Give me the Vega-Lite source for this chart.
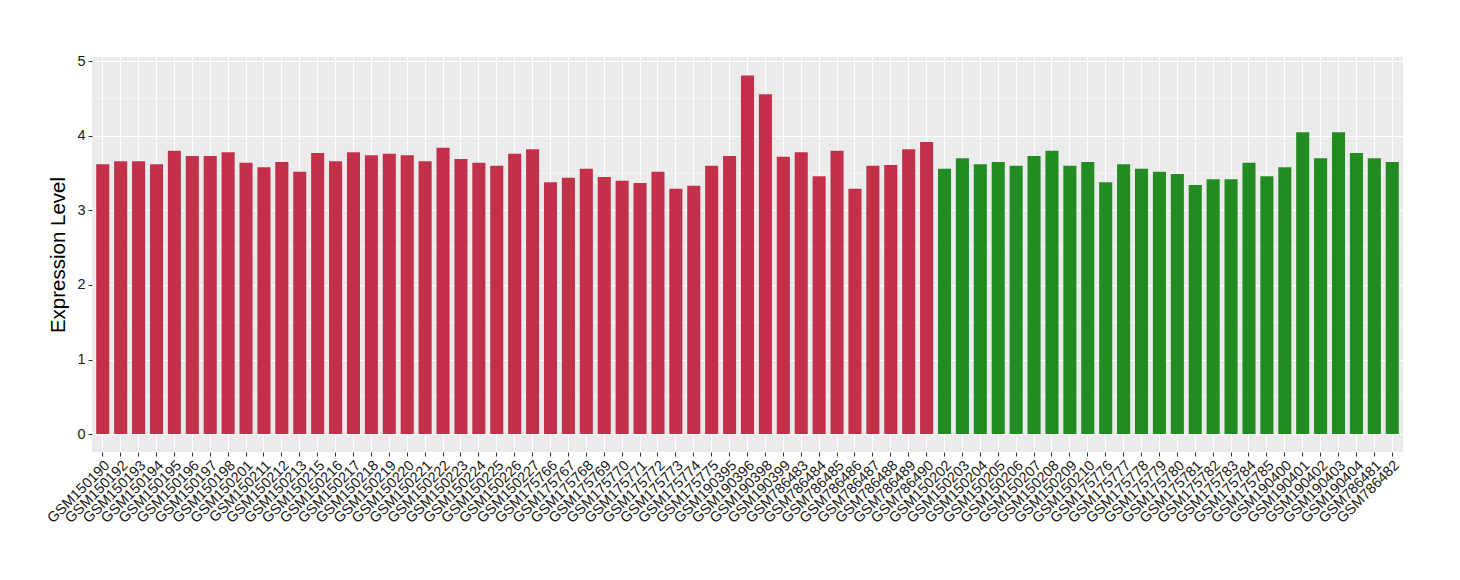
{
  "$schema": "https://vega.github.io/schema/vega-lite/v6.json",
  "autosize": {"type": "none"},
  "width": 1311,
  "height": 395,
  "padding": {"left": 92, "top": 57, "right": 57, "bottom": 128},
  "background": "#FFFFFF",
  "config": {
    "view": {"fill": "#EBEBEB", "stroke": null},
    "font": "Liberation Sans"
  },
  "datasets": {
    "bars": [
      {"sample": "GSM150190", "value": 3.62, "group": "G1"},
      {"sample": "GSM150192", "value": 3.66, "group": "G1"},
      {"sample": "GSM150193", "value": 3.66, "group": "G1"},
      {"sample": "GSM150194", "value": 3.62, "group": "G1"},
      {"sample": "GSM150195", "value": 3.80, "group": "G1"},
      {"sample": "GSM150196", "value": 3.73, "group": "G1"},
      {"sample": "GSM150197", "value": 3.73, "group": "G1"},
      {"sample": "GSM150198", "value": 3.78, "group": "G1"},
      {"sample": "GSM150201", "value": 3.64, "group": "G1"},
      {"sample": "GSM150211", "value": 3.58, "group": "G1"},
      {"sample": "GSM150212", "value": 3.65, "group": "G1"},
      {"sample": "GSM150213", "value": 3.52, "group": "G1"},
      {"sample": "GSM150215", "value": 3.77, "group": "G1"},
      {"sample": "GSM150216", "value": 3.66, "group": "G1"},
      {"sample": "GSM150217", "value": 3.78, "group": "G1"},
      {"sample": "GSM150218", "value": 3.74, "group": "G1"},
      {"sample": "GSM150219", "value": 3.76, "group": "G1"},
      {"sample": "GSM150220", "value": 3.74, "group": "G1"},
      {"sample": "GSM150221", "value": 3.66, "group": "G1"},
      {"sample": "GSM150222", "value": 3.84, "group": "G1"},
      {"sample": "GSM150223", "value": 3.69, "group": "G1"},
      {"sample": "GSM150224", "value": 3.64, "group": "G1"},
      {"sample": "GSM150225", "value": 3.60, "group": "G1"},
      {"sample": "GSM150226", "value": 3.76, "group": "G1"},
      {"sample": "GSM150227", "value": 3.82, "group": "G1"},
      {"sample": "GSM175766", "value": 3.38, "group": "G1"},
      {"sample": "GSM175767", "value": 3.44, "group": "G1"},
      {"sample": "GSM175768", "value": 3.56, "group": "G1"},
      {"sample": "GSM175769", "value": 3.45, "group": "G1"},
      {"sample": "GSM175770", "value": 3.40, "group": "G1"},
      {"sample": "GSM175771", "value": 3.37, "group": "G1"},
      {"sample": "GSM175772", "value": 3.52, "group": "G1"},
      {"sample": "GSM175773", "value": 3.29, "group": "G1"},
      {"sample": "GSM175774", "value": 3.33, "group": "G1"},
      {"sample": "GSM175775", "value": 3.60, "group": "G1"},
      {"sample": "GSM190395", "value": 3.73, "group": "G1"},
      {"sample": "GSM190396", "value": 4.81, "group": "G1"},
      {"sample": "GSM190398", "value": 4.56, "group": "G1"},
      {"sample": "GSM190399", "value": 3.72, "group": "G1"},
      {"sample": "GSM786483", "value": 3.78, "group": "G1"},
      {"sample": "GSM786484", "value": 3.46, "group": "G1"},
      {"sample": "GSM786485", "value": 3.80, "group": "G1"},
      {"sample": "GSM786486", "value": 3.29, "group": "G1"},
      {"sample": "GSM786487", "value": 3.60, "group": "G1"},
      {"sample": "GSM786488", "value": 3.61, "group": "G1"},
      {"sample": "GSM786489", "value": 3.82, "group": "G1"},
      {"sample": "GSM786490", "value": 3.92, "group": "G1"},
      {"sample": "GSM150202", "value": 3.56, "group": "G2"},
      {"sample": "GSM150203", "value": 3.70, "group": "G2"},
      {"sample": "GSM150204", "value": 3.62, "group": "G2"},
      {"sample": "GSM150205", "value": 3.65, "group": "G2"},
      {"sample": "GSM150206", "value": 3.60, "group": "G2"},
      {"sample": "GSM150207", "value": 3.73, "group": "G2"},
      {"sample": "GSM150208", "value": 3.80, "group": "G2"},
      {"sample": "GSM150209", "value": 3.60, "group": "G2"},
      {"sample": "GSM150210", "value": 3.65, "group": "G2"},
      {"sample": "GSM175776", "value": 3.38, "group": "G2"},
      {"sample": "GSM175777", "value": 3.62, "group": "G2"},
      {"sample": "GSM175778", "value": 3.56, "group": "G2"},
      {"sample": "GSM175779", "value": 3.52, "group": "G2"},
      {"sample": "GSM175780", "value": 3.49, "group": "G2"},
      {"sample": "GSM175781", "value": 3.34, "group": "G2"},
      {"sample": "GSM175782", "value": 3.42, "group": "G2"},
      {"sample": "GSM175783", "value": 3.42, "group": "G2"},
      {"sample": "GSM175784", "value": 3.64, "group": "G2"},
      {"sample": "GSM175785", "value": 3.46, "group": "G2"},
      {"sample": "GSM190400", "value": 3.58, "group": "G2"},
      {"sample": "GSM190401", "value": 4.05, "group": "G2"},
      {"sample": "GSM190402", "value": 3.70, "group": "G2"},
      {"sample": "GSM190403", "value": 4.05, "group": "G2"},
      {"sample": "GSM190404", "value": 3.77, "group": "G2"},
      {"sample": "GSM786481", "value": 3.70, "group": "G2"},
      {"sample": "GSM786482", "value": 3.65, "group": "G2"}
    ],
    "minor": [
      {"y": 0.5}, {"y": 1.5}, {"y": 2.5}, {"y": 3.5}, {"y": 4.5}
    ]
  },
  "layer": [
    {
      "data": {"name": "minor"},
      "mark": {"type": "rule", "color": "#FFFFFF", "strokeWidth": 0.6},
      "encoding": {
        "y": {"field": "y", "type": "quantitative"}
      }
    },
    {
      "data": {"name": "bars"},
      "mark": {"type": "bar", "opacity": 1},
      "encoding": {
        "x": {
          "field": "sample",
          "type": "nominal",
          "sort": null,
          "scale": {"paddingInner": 0.27, "paddingOuter": 0.235},
          "axis": {
            "title": null,
            "labelAngle": -45,
            "labelAlign": "right",
            "labelBaseline": "top",
            "labelFontSize": 14.5,
            "labelColor": "#1A1A1A",
            "labelPadding": 2,
            "labelOverlap": false,
            "labelBound": false,
            "domain": false,
            "ticks": true,
            "tickColor": "#333333",
            "tickSize": 4,
            "tickWidth": 1,
            "grid": true,
            "gridColor": "#FFFFFF",
            "gridWidth": 1.1
          }
        },
        "y": {
          "field": "value",
          "type": "quantitative",
          "scale": {"domain": [-0.241, 5.059], "nice": false, "zero": false},
          "axis": {
            "title": "Expression Level",
            "titleFontSize": 20.5,
            "titleFontWeight": "normal",
            "titleColor": "#000000",
            "titlePadding": 8,
            "values": [0, 1, 2, 3, 4, 5],
            "format": "d",
            "labelFontSize": 14.5,
            "labelColor": "#1A1A1A",
            "labelPadding": 3,
            "domain": false,
            "tickColor": "#333333",
            "tickSize": 4,
            "tickWidth": 1,
            "grid": true,
            "gridColor": "#FFFFFF",
            "gridWidth": 1.1
          }
        },
        "color": {
          "field": "group",
          "type": "nominal",
          "scale": {"domain": ["G1", "G2"], "range": ["#C23149", "#228B22"]},
          "legend": null
        }
      }
    }
  ]
}
